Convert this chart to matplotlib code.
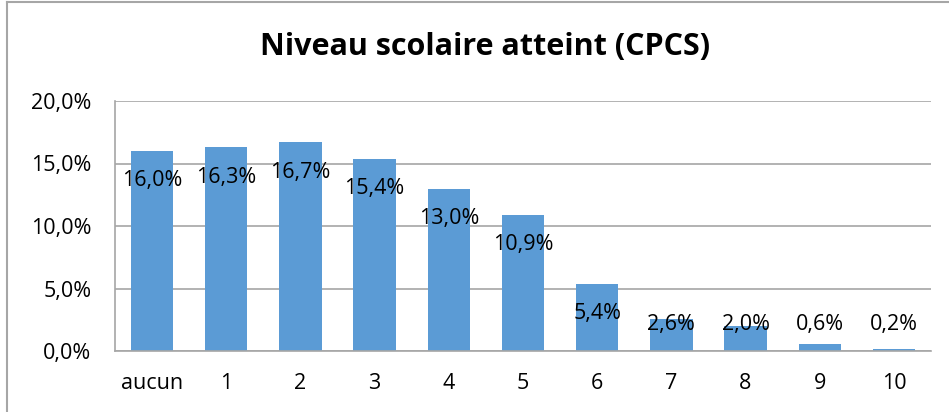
import matplotlib.pyplot as plt
from matplotlib.lines import Line2D
import numpy as np

# Données
categories = ['aucun', '1', '2', '3', '4', '5', '6', '7', '8', '9', '10']
valeurs = [16.0, 16.3, 16.7, 15.4, 13.0, 10.9, 5.4, 2.6, 2.0, 0.6, 0.2]
etiquettes = ['16,0%', '16,3%', '16,7%', '15,4%', '13,0%', '10,9%',
              '5,4%', '2,6%', '2,0%', '0,6%', '0,2%']
graduations = [0, 5, 10, 15, 20]
graduations_txt = ['0,0%', '5,0%', '10,0%', '15,0%', '20,0%']

plt.rcParams['font.family'] = ['Open Sans', 'DejaVu Sans']

fig = plt.figure(figsize=(9.49, 4.12), dpi=100)
ax = fig.add_axes([115 / 949, 1 - 351 / 412, 816 / 949, 250 / 412])

x = np.arange(len(categories))
ax.bar(x, valeurs, width=0.57, color='#5B9BD5', zorder=2)

# étiquettes de valeurs, un peu sous le haut de la barre
for xi, v, t in zip(x, valeurs, etiquettes):
    y = max(v - 2.4, 2.1)
    ax.text(xi, y, t, ha='center', va='center', fontsize=15.5, color='#000000', zorder=3)

ax.set_xlim(-0.5, len(categories) - 0.5)
ax.set_ylim(0, 20)
ax.set_yticks(graduations)
ax.set_yticklabels(graduations_txt)
ax.set_xticks(x)
ax.set_xticklabels(categories)
ax.tick_params(axis='both', length=0, labelsize=15.5, colors='#000000')
ax.tick_params(axis='x', pad=16)
ax.tick_params(axis='y', pad=17)

ax.yaxis.grid(True, color='#A6A6A6', linewidth=1.2, zorder=0)
for s in ['top', 'right']:
    ax.spines[s].set_visible(False)
for s in ['left', 'bottom']:
    ax.spines[s].set_color('#A6A6A6')
    ax.spines[s].set_linewidth(1.2)

fig.text(485 / 949, 1 - 47 / 412, 'Niveau scolaire atteint (CPCS)',
         ha='center', va='center', fontsize=22, fontweight='bold')

# cadre du graphique (gauche et haut)
fig.add_artist(Line2D([7 / 949, 7 / 949], [0, 1 - 2 / 412], color='#A6A6A6', linewidth=1.5))
fig.add_artist(Line2D([7 / 949, 1], [1 - 2 / 412, 1 - 2 / 412], color='#A6A6A6', linewidth=1.5))

fig.savefig('out.png', dpi=100)
